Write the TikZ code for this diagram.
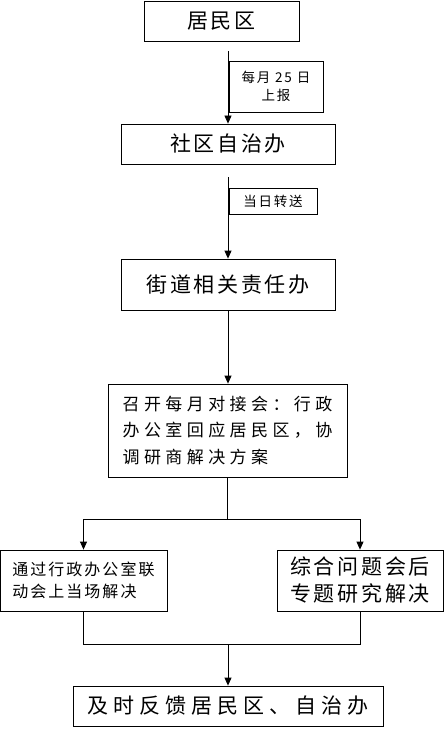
\documentclass[tikz,border=0pt]{standalone}
\usepackage{fontspec}
\setmainfont{Noto Sans CJK SC}
\usetikzlibrary{arrows.meta}

\begin{document}
\begin{tikzpicture}[x=1pt,y=-1pt,line width=0.8pt,
	box/.style={draw,inner sep=0pt,align=center},
	big/.style={font=\fontsize{21}{27}\selectfont\addfontfeature{LetterSpace=13}},
	lbl/.style={draw,inner sep=0pt,align=center,font=\fontsize{13.5}{18}\selectfont\addfontfeature{LetterSpace=13}},
	arr/.style={-{Triangle[length=8pt,width=7pt]}}]
	\useasboundingbox (0,0) rectangle (445,738);
	\node[box,big,minimum width=155pt,minimum height=40pt] (jmq) at (221.5,21) {居民区};
	\node[box,big,minimum width=214pt,minimum height=40pt] (sq) at (228,144) {社区自治办};
	\node[box,big,minimum width=214pt,minimum height=51pt] (jd) at (228,284.5) {街道相关责任办};
	\node[box,align=left,minimum width=239pt,minimum height=93pt,
		font=\fontsize{17}{26.5}\selectfont\addfontfeature{LetterSpace=26}] (hy) at (227.5,430.5)
		{召开每月对接会：行政\\办公室回应居民区，协\\调研商解决方案};
	\node[box,align=left,minimum width=167pt,minimum height=61pt,
		font=\fontsize{16}{22}\selectfont\addfontfeature{LetterSpace=12.5}] (tg) at (83.5,580.5)
		{通过行政办公室联\\动会上当场解决};
	\node[box,big,align=left,minimum width=166pt,minimum height=61pt] (zh) at (360,580.5)
		{综合问题会后\\专题研究解决};
	\node[box,minimum width=310pt,minimum height=40pt,
		font=\fontsize{21}{24}\selectfont\addfontfeature{LetterSpace=24}] (fk) at (228,706) {及时反馈居民区、自治办};
	\node[lbl,minimum width=94pt,minimum height=51pt] (sb) at (276,86.5) {每月 25 日\\上报};
	\node[lbl,minimum width=88pt,minimum height=26pt] (zs) at (273,201) {当日转送};
	\draw[arr,shorten <=10pt] (jmq.south -| sq.north) -- (sq.north);
	\draw[arr,shorten <=13pt] (sq.south) -- (jd.north);
	\draw[arr] (jd.south) -- (jd.south |- hy.north);
	\coordinate (fc) at (227.5,519);
	\draw (hy.south) -- (fc);
	\draw[arr] (fc) -| (tg.north);
	\draw[arr] (fc) -| (zh.north);
	\coordinate (hc) at (228,644);
	\draw (tg.south) |- (hc);
	\draw (zh.south) |- (hc);
	\draw[arr] (hc) -- (fk.north);
\end{tikzpicture}
\end{document}
